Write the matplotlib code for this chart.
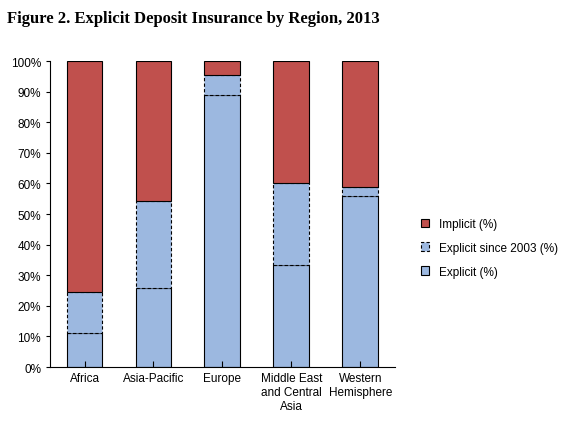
import matplotlib
matplotlib.use("Agg")
import matplotlib.pyplot as plt
from matplotlib.ticker import FuncFormatter

regions = ["Africa", "Asia-Pacific", "Europe", "Middle East\nand Central\nAsia", "Western\nHemisphere"]
explicit = [11.0, 25.8, 89.0, 33.3, 56.0]
explicit_since_2003 = [13.5, 28.5, 6.5, 26.7, 2.8]
implicit = [75.5, 45.7, 4.5, 40.0, 41.2]

blue = "#9CB8E0"
red = "#C0504D"

fig = plt.figure(figsize=(5.63, 4.31), dpi=100)
ax = fig.add_axes([0.089, 0.146, 0.612, 0.71])
x = range(len(regions))
w = 0.52
b1 = ax.bar(x, explicit, w, color=blue, edgecolor="black", linewidth=0.8, label="Explicit (%)")
b2 = ax.bar(x, explicit_since_2003, w, bottom=explicit, color=blue, edgecolor="black",
            linewidth=0.8, linestyle=(0, (3, 2)), label="Explicit since 2003 (%)")
bot = [a + b for a, b in zip(explicit, explicit_since_2003)]
b3 = ax.bar(x, implicit, w, bottom=bot, color=red, edgecolor="black", linewidth=0.8, label="Implicit (%)")

ax.set_ylim(0, 100)
ax.set_xlim(-0.5, len(regions) - 0.5)
ax.set_yticks(range(0, 101, 10))
ax.yaxis.set_major_formatter(FuncFormatter(lambda v, p: f"{int(v)}%"))
ax.set_xticks(list(x))
ax.set_xticklabels(regions, fontsize=8.5, family="Liberation Sans")
for t in ax.get_yticklabels():
    t.set_fontsize(8.5); t.set_family("Liberation Sans")
for s in ["top", "right"]:
    ax.spines[s].set_visible(False)
ax.tick_params(axis="x", length=4, direction="in")
ax.tick_params(axis="y", length=3, direction="out")

h = [b3, b2, b1]
ax.legend(h, [x.get_label() for x in h], loc="center left", bbox_to_anchor=(1.045, 0.39),
          frameon=False, prop={"family": "Liberation Sans", "size": 8.5}, labelspacing=1.0,
          handlelength=0.7, handleheight=0.7)

fig.text(0.012, 0.955, "Figure 2. Explicit Deposit Insurance by Region, 2013",
         fontsize=12, fontweight="bold", family="Liberation Serif", va="center")
fig.savefig("out.png", dpi=100)
